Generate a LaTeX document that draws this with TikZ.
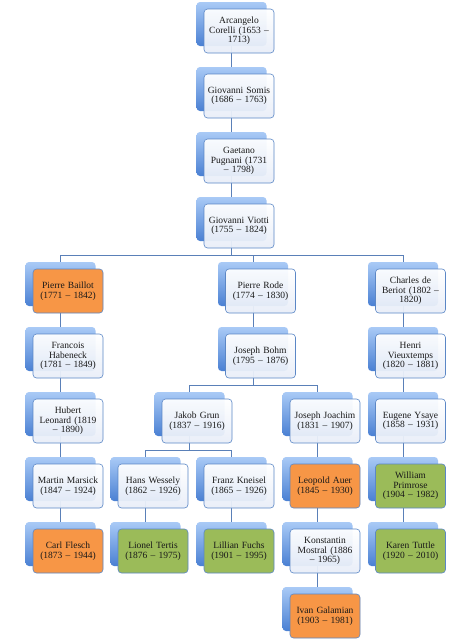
\documentclass[tikz,border=0pt]{standalone}
\usepackage{fontspec}
\setmainfont{Liberation Serif}
\usetikzlibrary{calc,backgrounds}
\definecolor{linec}{HTML}{5A80B8}
\definecolor{borderc}{HTML}{5B87C6}
\definecolor{backtop}{HTML}{A9CAF6}
\definecolor{backbot}{HTML}{4A80D3}
\definecolor{fronttop}{HTML}{FFFFFF}
\definecolor{frontbot}{HTML}{E8EEF8}
\definecolor{orangec}{HTML}{F79646}
\definecolor{greenc}{HTML}{9BBB59}
\newcommand\person[5]{%
  \node[backbox] (b#1) at (#2-7.5,#3-7) {};
  \node[frontbox,#4] (#1) at (#2,#3) {#5};
}
\begin{document}
\begin{tikzpicture}[x=1pt,y=-1pt,
  backbox/.style={rounded corners=3.5pt, minimum width=70pt, minimum height=44pt, inner sep=0pt,
    top color=backtop, bottom color=backbot, draw=none},
  frontbox/.style={rounded corners=3.5pt, minimum width=70pt, minimum height=44pt, inner sep=0pt,
    draw=borderc, line width=0.6pt, top color=fronttop, bottom color=frontbot, fill opacity=0.94, text opacity=1,
    align=center, text width=66pt, font=\fontsize{9.5}{9.7}\selectfont, text=black!90},
  orangebox/.style={top color=orangec, bottom color=orangec, fill opacity=1},
  greenbox/.style={top color=greenc, bottom color=greenc, fill opacity=1},
  plain/.style={},
  conn/.style={draw=linec, line width=0.75pt}]
\useasboundingbox (0,0) rectangle (471,640);
% bus coordinates
\coordinate (busA) at (0,255);
\coordinate (busB) at (0,385);
\coordinate (busC) at (0,450);
% nodes
\person{corelli}{239}{31}{plain}{Arcangelo\\Corelli (1653 –\\1713)}
\person{somis}{239}{96}{plain}{Giovanni Somis\\(1686 – 1763)}
\person{pugnani}{239}{161}{plain}{Gaetano\\Pugnani (1731\\– 1798)}
\person{viotti}{239}{226}{plain}{Giovanni Viotti\\(1755 – 1824)}
\person{baillot}{68}{291}{orangebox}{Pierre Baillot\\(1771 – 1842)}
\person{rode}{260.5}{291}{plain}{Pierre Rode\\(1774 – 1830)}
\person{beriot}{410.5}{291}{plain}{Charles de\\Beriot (1802 –\\1820)}
\person{habeneck}{68}{356}{plain}{Francois\\Habeneck\\(1781 – 1849)}
\person{bohm}{260.5}{356}{plain}{Joseph Bohm\\(1795 – 1876)}
\person{vieuxtemps}{410.5}{356}{plain}{Henri\\Vieuxtemps\\(1820 – 1881)}
\person{leonard}{68}{421}{plain}{Hubert\\Leonard (1819\\– 1890)}
\person{grun}{197}{421}{plain}{Jakob Grun\\(1837 – 1916)}
\person{joachim}{325}{421}{plain}{Joseph Joachim\\(1831 – 1907)}
\person{ysaye}{410.5}{421}{plain}{Eugene Ysaye\\(1858 – 1931)}
\person{marsick}{68}{486}{plain}{Martin Marsick\\(1847 – 1924)}
\person{wessely}{153}{486}{plain}{Hans Wessely\\(1862 – 1926)}
\person{kneisel}{239}{486}{plain}{Franz Kneisel\\(1865 – 1926)}
\person{auer}{325}{486}{orangebox}{Leopold Auer\\(1845 – 1930)}
\person{primrose}{410.5}{486}{greenbox}{William\\Primrose\\(1904 – 1982)}
\person{flesch}{68}{551}{orangebox}{Carl Flesch\\(1873 – 1944)}
\person{tertis}{153}{551}{greenbox}{Lionel Tertis\\(1876 – 1975)}
\person{fuchs}{239}{551}{greenbox}{Lillian Fuchs\\(1901 – 1995)}
\person{mostral}{325}{551}{plain}{Konstantin\\Mostral (1886\\– 1965)}
\person{tuttle}{410.5}{551}{greenbox}{Karen Tuttle\\(1920 – 2010)}
\person{galamian}{325}{616}{orangebox}{Ivan Galamian\\(1903 – 1981)}
\begin{scope}[on background layer]
\fill[white] (0,0) rectangle (471,640);
% straight chains
\draw[conn] (bcorelli.center) -- (bsomis.center);
\draw[conn] (bsomis.center) -- (bpugnani.center);
\draw[conn] (bpugnani.center) -- (bviotti.center);
\draw[conn] (bbaillot.center) -- (bhabeneck.center);
\draw[conn] (bhabeneck.center) -- (bleonard.center);
\draw[conn] (bleonard.center) -- (bmarsick.center);
\draw[conn] (bmarsick.center) -- (bflesch.center);
\draw[conn] (brode.center) -- (bbohm.center);
\draw[conn] (bberiot.center) -- (bvieuxtemps.center);
\draw[conn] (bvieuxtemps.center) -- (bysaye.center);
\draw[conn] (bysaye.center) -- (bprimrose.center);
\draw[conn] (bprimrose.center) -- (btuttle.center);
\draw[conn] (bwessely.center) -- (btertis.center);
\draw[conn] (bkneisel.center) -- (bfuchs.center);
\draw[conn] (bjoachim.center) -- (bauer.center);
\draw[conn] (bauer.center) -- (bmostral.center);
\draw[conn] (bmostral.center) -- (bgalamian.center);
% branching
\draw[conn] (bviotti.center) -- (bviotti.center |- busA) -| (bbaillot.center);
\draw[conn] (bviotti.center) -- (bviotti.center |- busA) -| (brode.center);
\draw[conn] (bviotti.center) -- (bviotti.center |- busA) -| (bberiot.center);
\draw[conn] (bbohm.center) -- (bbohm.center |- busB) -| (bgrun.center);
\draw[conn] (bbohm.center) -- (bbohm.center |- busB) -| (bjoachim.center);
\draw[conn] (bgrun.center) -- (bgrun.center |- busC) -| (bwessely.center);
\draw[conn] (bgrun.center) -- (bgrun.center |- busC) -| (bkneisel.center);
\end{scope}
\end{tikzpicture}
\end{document}
